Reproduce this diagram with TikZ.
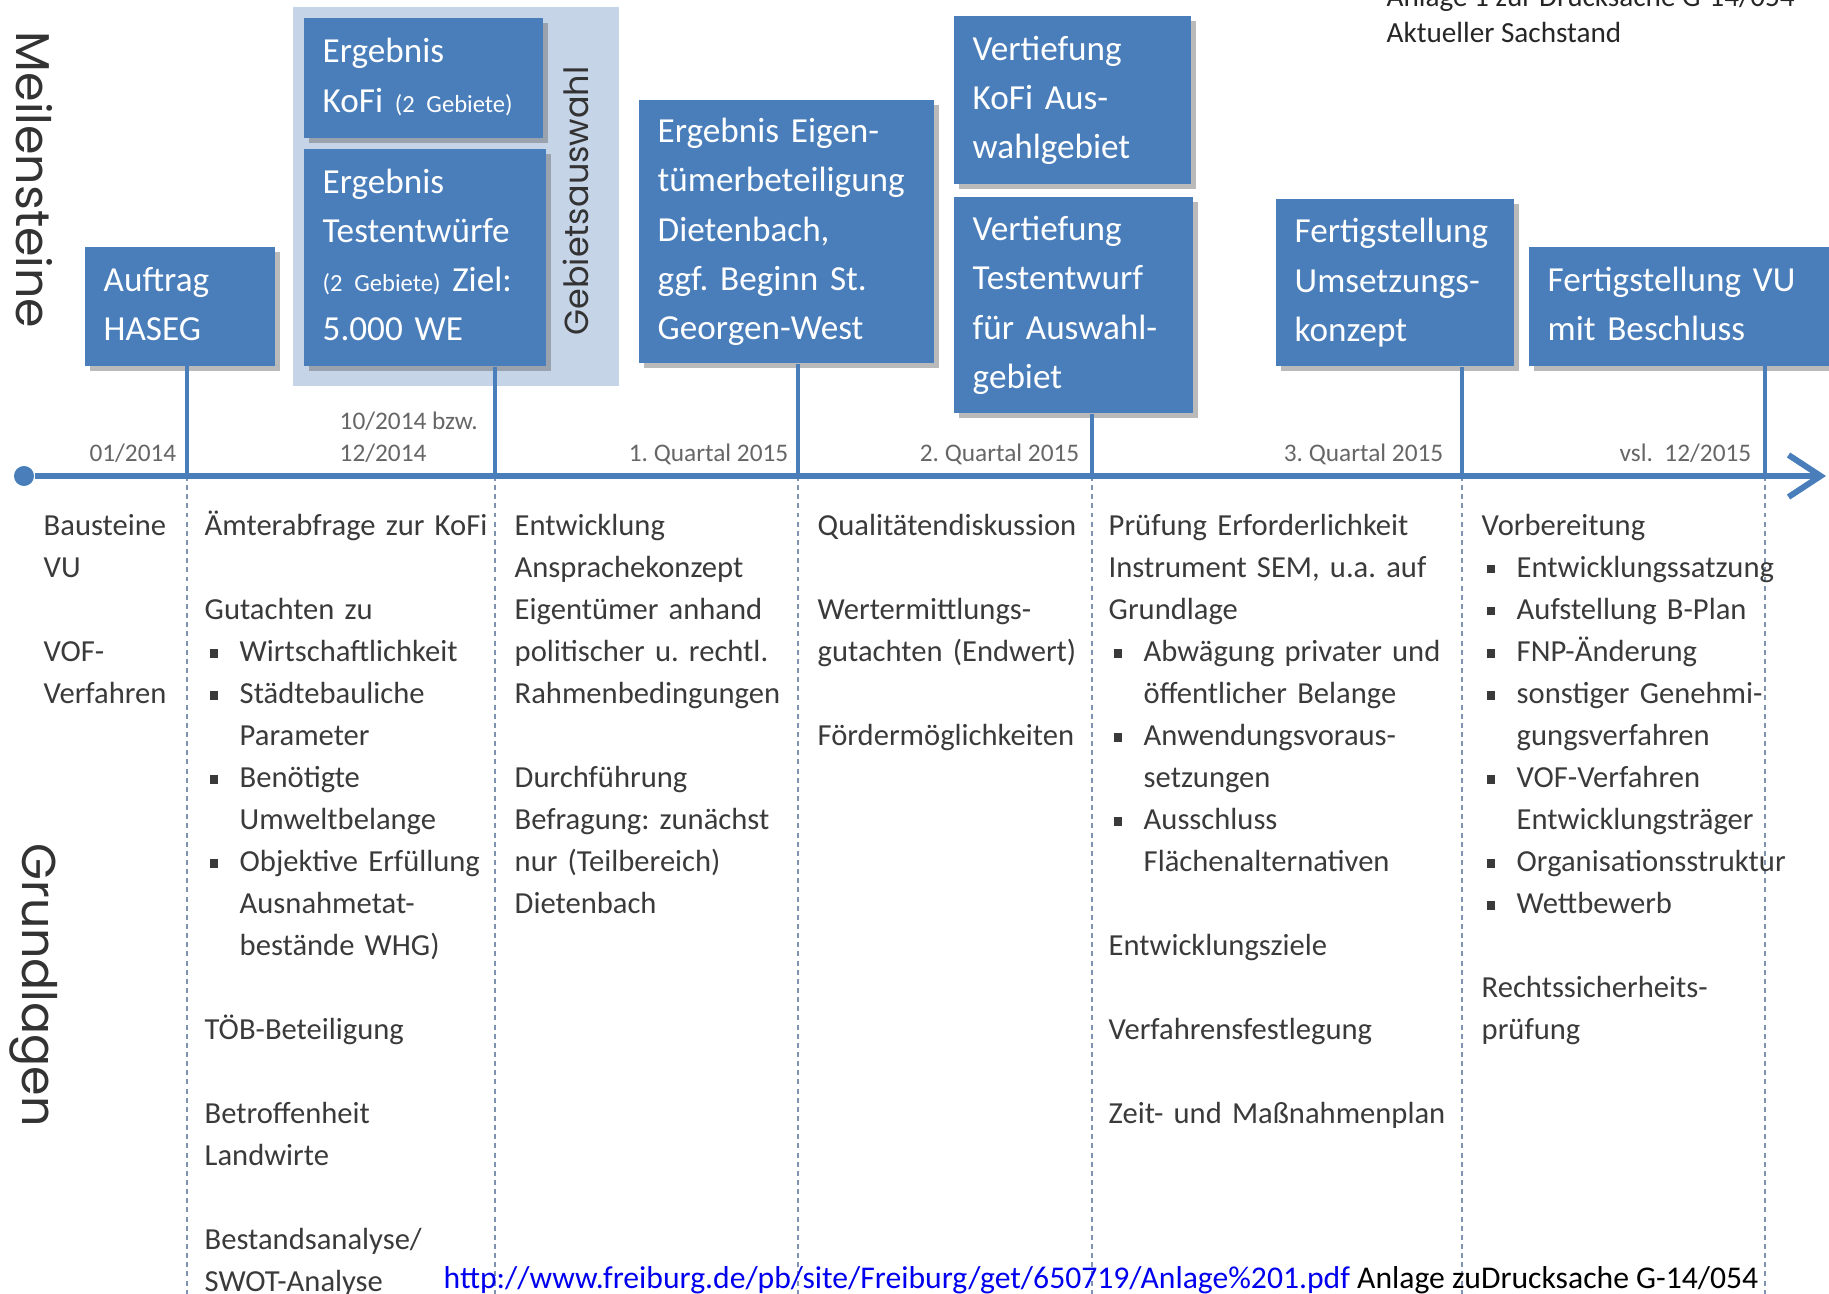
\documentclass[tikz,border=0pt]{standalone}
\usepackage{fontspec}
\setmainfont{Carlito}
\newfontfamily\headfont{Poppins}
\usepackage{tikz}
\usetikzlibrary{arrows.meta,shadows}
\hyphenpenalty=10000
\frenchspacing

\definecolor{msblue}{HTML}{4A7EBB}
\definecolor{gebietblue}{HTML}{C6D4E8}
\definecolor{gridblue}{HTML}{7F93B0}
\definecolor{textgrey}{HTML}{3A3A3A}
\definecolor{dategrey}{HTML}{666666}
\definecolor{urlblue}{HTML}{0000EE}

\tikzset{
  msbox/.style={rectangle, anchor=north west, fill=msblue, text=white, inner xsep=0.19cm, inner ysep=0pt, align=left,
    font=\fontsize{10}{14}\selectfont, drop shadow={shadow xshift=0.05cm, shadow yshift=-0.05cm, opacity=0.45, fill=black!60}},
  msline/.style={draw=msblue, line width=1.2pt},
  axisline/.style={draw=msblue, line width=1.7pt},
  gridline/.style={draw=gridblue, line width=0.7pt, dash pattern=on 1.4pt off 1.2pt},
  coltext/.style={anchor=north west, inner sep=0pt, text width=3.6cm, align=left, text=textgrey, font=\fontsize{8.7}{11.95}\selectfont},
  datetext/.style={inner sep=0pt, text=dategrey, font=\fontsize{7.2}{9.1}\selectfont},
  headtext/.style={inner sep=0pt, text=black!80, font=\headfont\fontsize{13.5}{16}\selectfont}
}

\newcommand{\milestonenode}[5] {\pgfmathsetmacro{\mstextwidth}{#3-0.38}\node at (#1) (#2) [msbox, minimum width=#3cm, minimum height=#4cm, text width=\mstextwidth cm] {\strut #5\strut};}
\newcommand{\milestoneline}[2] {\draw [msline] (#1.south -| #2) -- (#2);}
\newcommand{\columnline}[1] {\draw [gridline] (#1) -- (#1 |- bottom);}
\newcommand{\columnnode}[3] {\node at (#1) (#2) [coltext] {\strut #3};}
\newcommand{\datelabel}[3] {\node at (#1) (#2) [datetext, anchor=base east] {#3};}
\newcommand{\msbullet}{\makebox[0.35cm][l]{\hspace{0.05cm}\rule[0.12em]{0.27em}{0.27em}}}
\newcommand{\msindent}{\makebox[0.35cm]{}}

\begin{document}
\begin{tikzpicture}[x=0.01cm, y=-0.01cm]

\useasboundingbox (0,0) rectangle (1829,1294);

\coordinate (bottom) at (0,1294);
\coordinate (t1) at (187,476);
\coordinate (t2) at (495,476);
\coordinate (t3) at (798,476);
\coordinate (t4) at (1092,476);
\coordinate (t5) at (1462,476);
\coordinate (t6) at (1765,476);
\coordinate (axisend) at (1826,476);

\node at (292,6) (gebietbg) [anchor=north west, fill=gebietblue, minimum width=3.26cm, minimum height=3.79cm, inner sep=0pt] {};
\node at (576,201) (gebietlabel) [headtext, rotate=90, font=\headfont\fontsize{9.5}{11}\selectfont] {Gebietsauswahl};

\milestonenode {84,246} {auftrag} {1.90} {1.19} {Auftrag\\HASEG};
\milestonenode {303,17} {kofi} {2.39} {1.20} {Ergebnis\\KoFi {\fontsize{7}{8}\selectfont (2 Gebiete)}};
\milestonenode {303,148} {testentwurf} {2.42} {2.17} {Ergebnis\\Testentwürfe\\{\fontsize{7}{8}\selectfont (2 Gebiete)} Ziel:\\5.000 WE};
\milestonenode {638,99} {eigentuemer} {2.95} {2.63} {Ergebnis Eigen-\\tümerbeteiligung\\Dietenbach,\\ggf. Beginn St.\\Georgen-West};
\milestonenode {953,15} {vkofi} {2.37} {1.68} {Vertiefung\\KoFi Aus-\\wahlgebiet};
\milestonenode {953,196} {vtest} {2.39} {2.16} {Vertiefung\\Testentwurf\\für Auswahl-\\gebiet};
\milestonenode {1275,198} {umsetzung} {2.38} {1.67} {Fertigstellung\\Umsetzungs-\\konzept};
\milestonenode {1528,246} {vu} {3.10} {1.19} {Fertigstellung VU\\mit Beschluss};

\milestoneline {auftrag} {t1};
\milestoneline {testentwurf} {t2};
\milestoneline {eigentuemer} {t3};
\milestoneline {vtest} {t4};
\milestoneline {umsetzung} {t5};
\milestoneline {vu} {t6};

\columnline {t1};
\columnline {t2};
\columnline {t3};
\columnline {t4};
\columnline {t5};
\columnline {t6};

\node at (24,476) (start) [circle, fill=msblue, minimum size=0.2cm, inner sep=0pt] {};
\draw [axisline, -{Straight Barb[length=0.32cm, width=0.42cm]}] (start) -- (axisend);

\datelabel {177,462} {d1} {01/2014};
\node at (339,463) (d2) [datetext, anchor=south west, align=left] {10/2014 bzw.\\12/2014};
\datelabel {789,462} {d3} {1. Quartal 2015};
\datelabel {1080,462} {d4} {2. Quartal 2015};
\datelabel {1444,462} {d5} {3. Quartal 2015};
\datelabel {1752,462} {d6} {vsl.\ \ 12/2015};

\node at (34,180) (meilensteine) [headtext, rotate=-90] {Meilensteine};
\node at (34,985) (grundlagen) [headtext, rotate=-90] {Grundlagen};

\columnnode {43,505} {c0} {Bausteine\\VU\\[\baselineskip]VOF-\\Verfahren};
\columnnode {204,505} {c1} {Ämterabfrage zur KoFi\\[\baselineskip]
Gutachten zu\\
\msbullet Wirtschaftlichkeit\\
\msbullet Städtebauliche\\
\msindent Parameter\\
\msbullet Benötigte\\
\msindent Umweltbelange\\
\msbullet Objektive Erfüllung\\
\msindent Ausnahmetat-\\
\msindent bestände WHG)\\[\baselineskip]
TÖB-Beteiligung\\[\baselineskip]
Betroffenheit\\
Landwirte\\[\baselineskip]
Bestandsanalyse/\\
SWOT-Analyse};
\columnnode {514,505} {c2} {Entwicklung\\
Ansprachekonzept\\
Eigentümer anhand\\
politischer u. rechtl.\\
Rahmenbedingungen\\[\baselineskip]
Durchführung\\
Befragung: zunächst\\
nur (Teilbereich)\\
Dietenbach};
\columnnode {817,505} {c3} {Qualitätendiskussion\\[\baselineskip]
Wertermittlungs-\\
gutachten (Endwert)\\[\baselineskip]
Fördermöglichkeiten};
\columnnode {1108,505} {c4} {Prüfung Erforderlichkeit\\
Instrument SEM, u.a. auf\\
Grundlage\\
\msbullet Abwägung privater und\\
\msindent öffentlicher Belange\\
\msbullet Anwendungsvoraus-\\
\msindent setzungen\\
\msbullet Ausschluss\\
\msindent Flächenalternativen\\[\baselineskip]
Entwicklungsziele\\[\baselineskip]
Verfahrensfestlegung\\[\baselineskip]
Zeit- und Maßnahmenplan};
\columnnode {1481,505} {c5} {Vorbereitung\\
\msbullet Entwicklungssatzung\\
\msbullet Aufstellung B-Plan\\
\msbullet FNP-Änderung\\
\msbullet sonstiger Genehmi-\\
\msindent gungsverfahren\\
\msbullet VOF-Verfahren\\
\msindent Entwicklungsträger\\
\msbullet Organisationsstruktur\\
\msbullet Wettbewerb\\[\baselineskip]
Rechtssicherheits-\\
prüfung};

\node at (1386,43) (status) [anchor=south west, inner sep=0pt, align=left, text=black!85, font=\fontsize{8.3}{10}\selectfont] {Anlage 1 zur Drucksache G-14/054\\Aktueller Sachstand};
\node at (443,1288) (source) [anchor=base west, inner sep=0pt, font=\fontsize{9}{11}\selectfont] {\textcolor{urlblue}{http://www.freiburg.de/pb/site/Freiburg/get/650719/Anlage\%201.pdf} Anlage zuDrucksache G-14/054};

%\node at (900,700) {};
\end{tikzpicture}
\end{document}
